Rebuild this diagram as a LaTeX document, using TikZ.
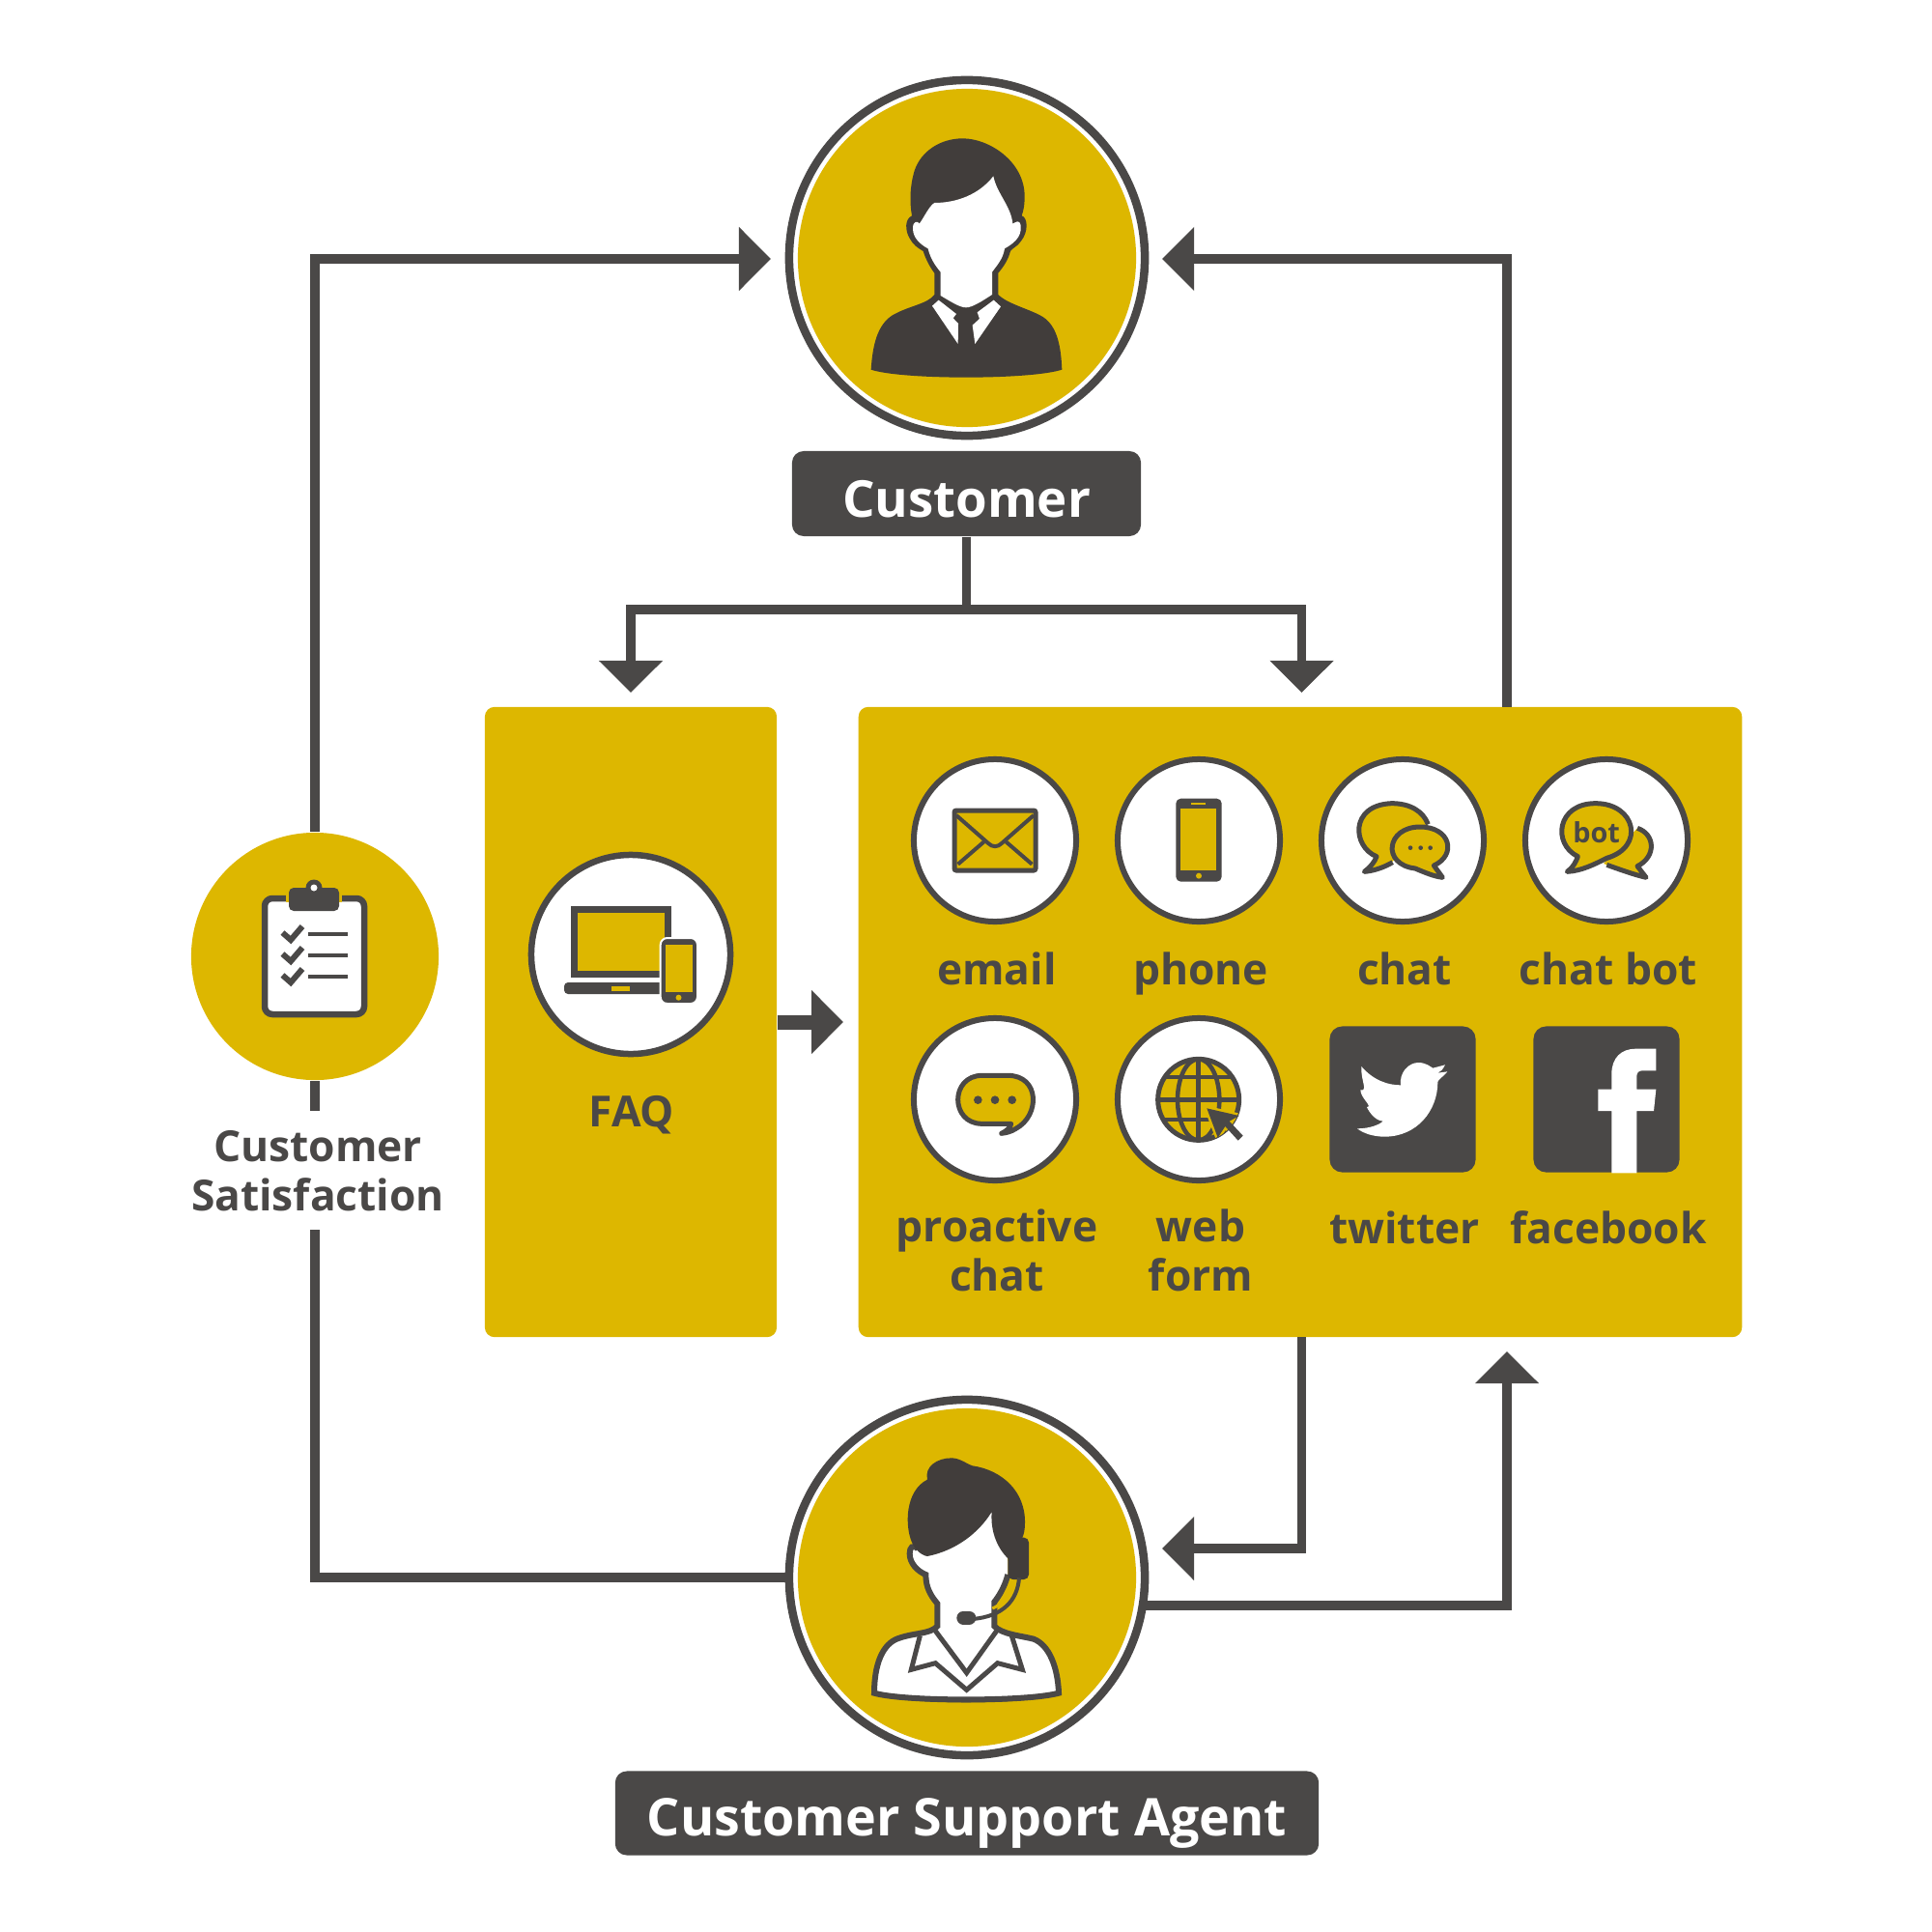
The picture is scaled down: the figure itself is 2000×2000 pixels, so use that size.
\documentclass[tikz,border=0pt]{standalone}
\usepackage{fontspec}
\setmainfont{Open Sans}
\usetikzlibrary{arrows.meta}
\definecolor{gold}{HTML}{DDB700}
\definecolor{ink}{HTML}{4A4847}
\definecolor{haar}{HTML}{413D3B}
\begin{document}
\begin{tikzpicture}[x=0.01cm,y=-0.01cm]
	% Einstellungen
	\tikzset{
		flow/.style={draw=ink, line width=0.095cm}, % Verbindungslinie
		pfeil/.style={flow, -{Triangle[length=0.33cm,width=0.64cm]}}, % Linie mit Pfeilspitze
		ring/.style={circle, draw=ink, fill=white, line width=0.085cm, minimum size=3.68cm, inner sep=0pt}, % Grosser Ring
		disc/.style={circle, fill=gold, minimum size=3.5cm, inner sep=0pt}, % Goldene Scheibe
		pill/.style={fill=ink, text=white, rounded corners=0.12cm, inner sep=0pt}, % Dunkles Schild
		panel/.style={fill=gold, rounded corners=0.1cm, inner sep=0pt}, % Goldene Flaeche
		badge/.style={circle, draw=ink, fill=white, line width=0.06cm, minimum size=1.68cm, inner sep=0pt}, % Kleiner Kreis
		square/.style={fill=ink, rounded corners=0.13cm, minimum size=1.51cm, inner sep=0pt}, % Dunkles Quadrat
		lab/.style={text=ink, inner sep=0pt, align=center, anchor=north, font=\fontsize{12.6}{14.5}\selectfont\bfseries, execute at begin node=\strut}, % Beschriftung
		bar/.style={draw=ink, line width=0.05cm}, % Kontur der Symbole
		barfill/.style={bar, fill=gold} % Kontur mit Fuellung
	}
	\useasboundingbox (0,0) rectangle (2000,2000);

	% Flaechen
	\node[panel, minimum width=3.02cm, minimum height=6.52cm] (faq) at (653,1058) {};
	\node[panel, minimum width=9.14cm, minimum height=6.52cm] (main) at (1346,1058) {};

	% Kunde und Mitarbeiterin
	\node[ring] (customerRing) at (1001,267) {};
	\node[disc] (customer) at (1001,267) {};
	\node[pill, minimum width=3.61cm, minimum height=0.88cm, text height=0.6cm, text depth=0.11cm, font=\fontsize{15}{18}\selectfont\bfseries] (customerLabel) at (1000.5,511) {Customer};
	\node[ring] (agentRing) at (1001,1633) {};
	\node[disc] (agent) at (1001,1633) {};
	\node[pill, minimum width=7.28cm, minimum height=0.87cm, text height=0.58cm, text depth=0.12cm, font=\fontsize{15.3}{18}\selectfont\bfseries] (agentLabel) at (1001,1877) {Customer Support Agent};

	% Zufriedenheit
	\node[circle, fill=gold, minimum size=2.56cm, inner sep=0pt] (satis) at (326,990) {};
	\node[lab, anchor=center, execute at begin node={}, minimum height=1.22cm] (satisLabel) at (329,1220) {Customer\\Satisfaction};

	% Hilfspunkte
	\coordinate (branch) at (1000.5,631);
	\coordinate (faqIn) at (653,717);
	\coordinate (mainIn) at (1347.5,717);
	\coordinate (mainOut) at (1347.5,1384);
	\coordinate (customerIn) at (798,268);
	\coordinate (customerBack) at (1203,268);
	\coordinate (mainTop) at (1560,732);
	\coordinate (agentIn) at (1203,1603);
	\coordinate (agentOut) at (1186,1662);
	\coordinate (mainBack) at (1560,1399);
	\coordinate (satisEnd) at (326,1150);
	\coordinate (satisStart) at (326,1273);

	% Verbindungen
	\draw[pfeil] (satis.north) |- (customerIn);
	\draw[pfeil] (mainTop) |- (customerBack);
	\draw[flow] (customerLabel.south) -- (branch);
	\draw[pfeil] (branch) -| (faqIn);
	\draw[pfeil] (branch) -| (mainIn);
	\draw[pfeil] (mainOut) |- (agentIn);
	\draw[pfeil] (agentOut) -| (mainBack);
	\draw[flow] (agentRing.west) -| (satisStart);
	\draw[flow] (satis.south) -- (satisEnd);
	\draw[draw=ink, line width=0.15cm, shorten >=0.15cm, -{Triangle[length=0.33cm,width=0.64cm]}] (faq) -- (main);

	% Symbol Kunde
	\begin{scope}[shift={(790,60)},scale=1/3]
		\fill[haar] (620,250) .. controls (700,250) and (812,320) .. (812,430) .. controls (812,460) and (808,475) .. (803,490) .. controls (822,495) and (825,540) .. (800,570) .. controls (790,585) and (775,590) .. (768,600) .. controls (760,630) and (745,650) .. (730,668) -- (730,735) .. controls (760,765) and (830,780) .. (870,805) .. controls (915,835) and (925,900) .. (928,968) .. controls (830,1000) and (430,1000) .. (335,968) .. controls (340,890) and (355,830) .. (400,800) .. controls (450,770) and (510,765) .. (532,735) -- (532,668) .. controls (518,650) and (505,625) .. (497,600) .. controls (480,590) and (465,580) .. (455,560) .. controls (440,535) and (440,500) .. (462,490) .. controls (455,450) and (455,400) .. (470,350) .. controls (490,290) and (550,250) .. (620,250) -- cycle;
		\fill[white] (532,450) .. controls (600,450) and (670,425) .. (715,367) .. controls (725,420) and (770,460) .. (775,515) .. controls (785,510) and (795,500) .. (800,520) .. controls (805,560) and (770,580) .. (750,592) .. controls (745,625) and (725,645) .. (711,665) -- (711,735) .. controls (680,755) and (650,775) .. (630,775) .. controls (610,775) and (580,755) .. (551,738) -- (551,665) .. controls (535,645) and (520,625) .. (512,592) .. controls (490,580) and (465,560) .. (465,530) .. controls (465,505) and (480,505) .. (485,515) .. controls (500,495) and (515,460) .. (532,450) -- cycle;
		\fill[white] (525,770) -- (545,752) -- (600,795) -- (590,808) -- (606,825) -- (605,888) -- cycle;
		\fill[white] (738,772) -- (716,752) -- (665,790) -- (672,810) -- (650,830) -- (658,888) -- cycle;
	\end{scope}

	% Symbol Mitarbeiterin
	\begin{scope}[shift={(790,1430)},scale=1/3]
		\fill[white] (345,968) .. controls (345,880) and (370,815) .. (420,798) .. controls (470,780) and (520,785) .. (541,760) -- (541,690) .. controls (520,665) and (505,640) .. (505,600) .. controls (480,590) and (455,565) .. (455,535) .. controls (455,515) and (465,505) .. (480,520) -- (480,400) -- (740,400) -- (760,560) -- (760,600) .. controls (750,640) and (730,670) .. (718,685) -- (718,760) .. controls (740,785) and (800,790) .. (840,800) .. controls (890,820) and (915,890) .. (918,968) .. controls (820,995) and (440,995) .. (345,968) -- cycle;
		\draw[ink, line width=0.06cm] (480,520) .. controls (465,505) and (455,515) .. (455,535) .. controls (455,565) and (480,590) .. (505,600) .. controls (505,640) and (520,665) .. (541,690) -- (541,760) .. controls (520,785) and (470,780) .. (420,798) .. controls (370,815) and (345,880) .. (345,968) .. controls (440,995) and (820,995) .. (918,968) .. controls (915,890) and (890,820) .. (840,800) .. controls (800,790) and (740,785) .. (718,760) -- (718,685) .. controls (730,670) and (750,640) .. (760,600);
		\fill[ink] (345,962) .. controls (440,990) and (820,990) .. (918,962) -- (926,972) .. controls (820,1005) and (440,1005) .. (336,972) -- cycle;
		\fill[haar] (510,305) .. controls (500,265) and (540,238) .. (585,238) .. controls (610,238) and (630,255) .. (650,262) .. controls (740,275) and (815,340) .. (813,440) .. controls (813,460) and (810,475) .. (805,485) -- (790,560) -- (760,550) .. controls (730,520) and (705,470) .. (710,405) .. controls (670,470) and (600,525) .. (510,543) .. controls (490,540) and (470,520) .. (462,500) .. controls (440,450) and (440,340) .. (510,305) -- cycle;
		\fill[haar, rounded corners=0.05cm] (760,485) rectangle (825,615);
		\draw[gold, line width=0.03cm] (772,615) .. controls (765,660) and (740,695) .. (712,705);
		\draw[ink, line width=0.04cm] (795,610) .. controls (790,680) and (745,730) .. (650,738);
		\draw[ink, line width=0.14cm, line cap=round] (622,734) -- (640,734);
		\draw[ink, line width=0.05cm] (535,775) -- (632,905) -- (725,775);
		\draw[ink, line width=0.05cm] (487,790) -- (460,895) -- (535,875) -- (632,958) -- (728,875) -- (805,895) -- (772,790);
	\end{scope}

	% Symbol Klemmbrett
	\draw[ink, fill=white, line width=0.065cm, rounded corners=0.08cm] (274,930) rectangle (377,1050);
	\fill[gold] (296,922) rectangle (354,933.5);
	\fill[ink] (325,919) circle (8.5);
	\fill[ink, rounded corners=0.05cm] (299,919) rectangle (351,943);
	\fill[white] (325,919) circle (3.5);
	\foreach \y in {0,22,44} {
		\draw[ink, line width=0.06cm] (292.5,965.5+\y) -- (301,973+\y) -- (313,959+\y);
		\draw[ink, line width=0.035cm] (319,967+\y) -- (360,967+\y);
	}

	% Symbol Geraete
	\node[circle, draw=ink, fill=white, line width=0.065cm, minimum size=2.06cm, inner sep=0pt] (faqBadge) at (653,988) {};
	\draw[ink, fill=gold, line width=0.07cm] (594,941.5) rectangle (691,1008.5);
	\fill[ink, rounded corners=0.04cm] (584,1017) -- (700,1017) -- (700,1029) -- (584,1029) -- cycle;
	\fill[gold] (633,1021) rectangle (651.5,1026);
	\draw[white, fill=ink, line width=0.02cm, rounded corners=0.07cm] (683.7,971) rectangle (722,1039);
	\fill[gold] (688.7,978) rectangle (717,1027);
	\fill[gold] (702.5,1032.7) circle (3);

	% Kanaele
	\foreach \n/\txt in {1/email,2/phone,3/chat,4/chat bot,5/{proactive\\chat},6/{web\\form},7/twitter,8/facebook} {
		\pgfmathtruncatemacro{\row}{(\n - 1) / 4} % Neue Zeile alle 4 Kanaele
		\pgfmathtruncatemacro{\col}{mod(\n - 1, 4)} % Spaltenposition berechnen
		\ifnum\n<7
			\node[badge] (chan\n) at (1030+211*\col, 870+268*\row) {}; % Kreis
		\else
			\node[square] (chan\n) at (1030+211*\col, 1138) {}; % Quadrat
		\fi
		\node[lab] (chanLabel\n) at (1032+211*\col, 983+268*\row) {\txt}; % Beschriftung
	}

	% Symbol E-Mail
	\begin{scope}[shift={(920,770)},scale=1/3]
		\draw[barfill, rounded corners=0.02cm] (204,207) rectangle (456,393);
		\draw[ink, line width=0.04cm] (210,222) -- (308,308) .. controls (322,322) and (338,322) .. (352,308) -- (450,222);
		\draw[ink, line width=0.04cm] (215,374) -- (296,304) (445,374) -- (364,304);
	\end{scope}

	% Symbol Telefon
	\begin{scope}[shift={(920,770)},scale=1/3]
		\fill[ink, rounded corners=0.05cm] (892,170) rectangle (1034,428);
		\fill[gold] (907,202) rectangle (1018,393);
		\draw[gold, line width=0.012cm] (940,186) -- (985,186);
		\fill[gold] (963,410) circle (9);
	\end{scope}

	% Symbol Chat
	\begin{scope}[shift={(1350,770)},scale=1/3]
		\fill[gold] (225,350) .. controls (150,320) and (140,190) .. (272,185) .. controls (340,185) and (380,220) .. (385,260) -- (275,365) -- (187,397) -- cycle;
		\draw[barfill, fill=none, line join=round] (275,368) .. controls (240,388) and (210,395) .. (187,397) .. controls (205,385) and (220,365) .. (225,350) .. controls (150,320) and (140,190) .. (272,185) .. controls (330,185) and (370,210) .. (385,250);
		\draw[barfill, line join=round] (345,387) .. controls (240,375) and (255,258) .. (360,258) .. controls (455,258) and (475,345) .. (403,378) -- (430,415) .. controls (405,412) and (375,400) .. (345,387) -- cycle;
		\foreach \x in {330,362,392} {\fill[ink] (\x,323) circle (7);}
	\end{scope}

	% Symbol Bot
	\begin{scope}[shift={(1350,770)},scale=1/3]
		\fill[gold] (1035,262) .. controls (1090,280) and (1095,350) .. (1035,380) -- (1062,415) .. controls (1020,405) and (980,390) .. (930,372) -- cycle;
		\draw[bar, line join=round] (1035,262) .. controls (1090,280) and (1095,350) .. (1035,380) -- (1062,415) .. controls (1020,405) and (980,390) .. (940,376);
		\draw[barfill, line join=round] (850,350) .. controls (770,310) and (785,185) .. (905,185) .. controls (1030,185) and (1060,320) .. (940,355) .. controls (900,375) and (860,395) .. (817,397) .. controls (835,385) and (845,365) .. (850,350) -- cycle;
		\node[text=ink, font=\fontsize{8.2}{9}\selectfont\bfseries, inner sep=0pt] (botText) at (908,275) {bot};
	\end{scope}

	% Symbol Proaktiv
	\begin{scope}[shift={(920,1040)},scale=1/3]
		\draw[barfill, line join=round] (290,220) -- (370,220) .. controls (470,220) and (470,345) .. (395,385) .. controls (380,395) and (365,398) .. (350,400) .. controls (370,390) and (378,380) .. (380,370) -- (290,370) .. controls (190,370) and (190,220) .. (290,220) -- cycle;
		\foreach \x in {277,330,383} {\fill[ink] (\x,296) circle (13);}
	\end{scope}

	% Symbol Web
	\begin{scope}[shift={(920,1040)},scale=1/3]
		\draw[barfill] (962,295) circle (126);
		\draw[ink, line width=0.045cm] (962,169) -- (962,421) (836,295) -- (1088,295);
		\draw[ink, line width=0.045cm] (962,295) ellipse [x radius=65, y radius=126];
		\begin{scope}
			\clip (962,295) circle (130);
			\draw[ink, line width=0.04cm] (830,225) -- (1095,225) (830,358) -- (1095,358);
			\draw[gold, line width=0.05cm, fill=ink] (988,322) -- (1088,345) -- (1058,362) -- (1100,407) -- (1085,422) -- (1045,378) -- (1022,413) -- cycle;
		\end{scope}
		\fill[ink] (988,322) -- (1088,345) -- (1058,362) -- (1100,407) -- (1085,422) -- (1045,378) -- (1022,413) -- cycle;
	\end{scope}

	% Symbol Vogel
	\begin{scope}[shift={(1350,1040)},scale=1/3]
		\fill[white] (165,385) .. controls (205,385) and (235,372) .. (245,362) .. controls (215,360) and (195,320) .. (195,318) .. controls (215,318) and (175,290) .. (175,265) .. controls (200,270) and (175,235) .. (178,192) .. controls (215,235) and (260,250) .. (300,250) .. controls (295,210) and (325,180) .. (355,180) .. controls (380,180) and (395,195) .. (400,197) -- (438,187) .. controls (430,202) and (425,208) .. (415,212) -- (445,208) .. controls (430,225) and (415,235) .. (415,240) .. controls (415,330) and (350,410) .. (250,410) .. controls (215,410) and (185,400) .. (165,385) -- cycle;
	\end{scope}

	% Symbol f
	\begin{scope}[shift={(1350,1040)},scale=1/3]
		\fill[white] (955,523) -- (955,330) -- (913,330) -- (913,263) -- (955,263) -- (955,215) .. controls (955,165) and (985,137) .. (1030,137) -- (1093,137) -- (1093,205) -- (1050,205) .. controls (1035,205) and (1033,215) .. (1033,225) -- (1033,263) -- (1093,263) -- (1086,330) -- (1033,330) -- (1033,523) -- cycle;
	\end{scope}

	% FAQ
	\node[lab] (faqLabel) at (654,1130) {FAQ};
\end{tikzpicture}
\end{document}
